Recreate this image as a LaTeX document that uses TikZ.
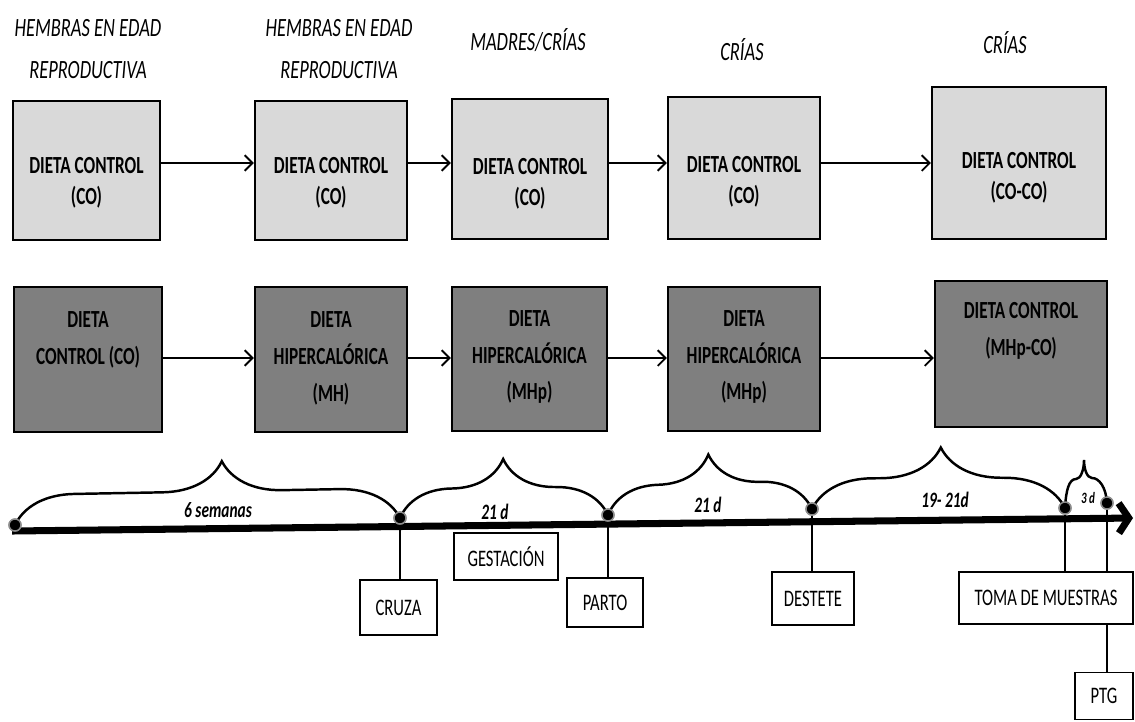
\documentclass[tikz,border=0pt]{standalone}
\usepackage{fontspec}
\setmainfont{Carlito}[FakeStretch=0.7]
\usepackage{tikz}
\usetikzlibrary{arrows.meta}
\usetikzlibrary{decorations.pathreplacing}

\definecolor{boxlite}{HTML}{D9D9D9}
\definecolor{boxdark}{HTML}{7F7F7F}

\tikzset{
  diet/.style={draw=black, line width=1.2pt, inner sep=0pt},
  lite/.style={diet, fill=boxlite},
  dark/.style={diet, fill=boxdark},
  diettext/.style={align=center, font=\bfseries\fontsize{14}{17.5}\selectfont},
  diettextb/.style={align=center, font=\bfseries\fontsize{14}{21}\selectfont},
  stage/.style={align=center, font=\itshape\fontsize{15}{24}\selectfont},
  event/.style={draw=black, line width=0.9pt, fill=white, inner sep=0pt, font=\fontsize{13.5}{16}\selectfont},
  span/.style={font=\bfseries\itshape\fontsize{12.5}{15}\selectfont},
  tdot/.style={circle, fill=black, draw=black!45, line width=0.8pt, minimum size=0.24cm, inner sep=0pt},
  feed/.style={line width=1.1pt, -{Straight Barb[length=4.5pt,width=9pt]}},
  curly/.style={line width=1.4pt, decorate, decoration={brace, amplitude=#1}},
  drop/.style={line width=0.8pt},
}

\begin{document}
\begin{tikzpicture}[x=0.02cm, y=-0.02cm]
\useasboundingbox (0,0) rectangle (1135,721);

% etapas
\node[stage] (h1) at (88,49) {HEMBRAS EN EDAD\\REPRODUCTIVA};
\node[stage] (h2) at (339,49) {HEMBRAS EN EDAD\\REPRODUCTIVA};
\node[stage] (h3) at (528,40) {MADRES/CRÍAS};
\node[stage] (h4) at (742,50) {CRÍAS};
\node[stage] (h5) at (1005,43) {CRÍAS};

% grupo control
\node[lite, minimum width=2.94cm, minimum height=2.78cm] (t1) at (86.5,170.5) {};
\node[lite, minimum width=3.04cm, minimum height=2.78cm] (t2) at (331,170.5) {};
\node[lite, minimum width=3.12cm, minimum height=2.80cm] (t3) at (530,169) {};
\node[lite, minimum width=3.04cm, minimum height=2.84cm] (t4) at (744,168) {};
\node[lite, minimum width=3.48cm, minimum height=3.04cm] (t5) at (1019,163) {};

\node[diettext] (t1txt) at ([yshift=-0.24cm]t1.center) {DIETA CONTROL\\(CO)};
\node[diettext] (t2txt) at ([yshift=-0.24cm]t2.center) {DIETA CONTROL\\(CO)};
\node[diettext] (t3txt) at ([yshift=-0.3cm]t3.center) {DIETA CONTROL\\(CO)};
\node[diettext] (t4txt) at ([yshift=-0.28cm]t4.center) {DIETA CONTROL\\(CO)};
\node[diettext] (t5txt) at ([yshift=-0.3cm]t5.center) {DIETA CONTROL\\(CO-CO)};

% grupo hipercalorico
\node[dark, minimum width=2.96cm, minimum height=2.90cm] (b1) at (88,359.5) {};
\node[dark, minimum width=3.04cm, minimum height=2.90cm] (b2) at (331,359.5) {};
\node[dark, minimum width=3.10cm, minimum height=2.88cm] (b3) at (529.5,359) {};
\node[dark, minimum width=3.04cm, minimum height=2.88cm] (b4) at (744,359) {};
\node[dark, minimum width=3.44cm, minimum height=2.92cm] (b5) at (1021,354) {};

\node[diettextb] (b1txt) at (88,340) {DIETA\\CONTROL (CO)};
\node[diettextb] (b2txt) at (331,358) {DIETA\\HIPERCALÓRICA\\(MH)};
\node[diettextb] (b3txt) at (529.5,357) {DIETA\\HIPERCALÓRICA\\(MHp)};
\node[diettextb] (b4txt) at (744,357) {DIETA\\HIPERCALÓRICA\\(MHp)};
\node[diettextb] (b5txt) at (1021,331) {DIETA CONTROL\\(MHp-CO)};

\coordinate (rowA) at (0,163);
\coordinate (rowB) at (0,358);
\foreach \a/\b in {t1/t2,t2/t3,t3/t4,t4/t5}
  \draw[feed] (\a.east |- rowA) -- (\b.west |- rowA);
\foreach \a/\b in {b1/b2,b2/b3,b3/b4,b4/b5}
  \draw[feed] (\a.east |- rowB) -- (\b.west |- rowB);

% linea de tiempo
\coordinate (tl0) at (12,531);
\coordinate (tl1) at (1133,518);
\draw[line width=4pt, -{Straight Barb[length=0.2cm,width=0.6cm]}] (tl0) -- (tl1);

\node[tdot] (d0) at (15,525) {};
\node[tdot] (d1) at (400,518) {};
\node[tdot] (d2) at (608,515) {};
\node[tdot] (d3) at (812,509) {};
\node[tdot] (d4) at (1065,508) {};
\node[tdot] (d5) at (1107,503) {};

\draw[curly=1.2cm, decoration={aspect=0.54}] (d0.center) -- (d1.center);
\draw[curly=1.15cm] (d1.center) -- (d2.center);
\draw[curly=1.15cm] (d2.center) -- (d3.center);
\draw[curly=1.22cm, decoration={aspect=0.51}] (d3.center) -- (d4.center);
\draw[line width=1.4pt] (d4.center) .. controls +(1,-18) and +(-7,0) .. (1076,479)
  .. controls +(5,0) and +(0,9) .. (1084,460)
  .. controls +(0,9) and +(-5,0) .. (1092,478)
  .. controls +(7,0) and +(-1,-16) .. (d5.center);
\foreach \d in {d0,d1,d2,d3,d4,d5}
  \node[tdot] at (\d) {};

\node[span] (w1) at (218,510) {6 semanas};
\node[span] (w2) at (495,512) {21 d};
\node[span] (w3) at (708,505) {21 d};
\node[span] (w4) at (945,500) {19- 21d};
\node[span, font=\bfseries\itshape\fontsize{9}{11}\selectfont] (w5) at (1088,498) {3 d};

% eventos
\node[event, minimum width=1.54cm, minimum height=1.10cm] (cruza) at (398.5,607.5) {CRUZA};
\node[event, minimum width=2.08cm, minimum height=0.94cm] (gestacion) at (506,556.5) {GESTACIÓN};
\node[event, minimum width=1.52cm, minimum height=0.98cm] (parto) at (605,602.5) {PARTO};
\node[event, minimum width=1.64cm, minimum height=1.06cm] (destete) at (813,598.5) {DESTETE};
\node[event, minimum width=3.48cm, minimum height=1.04cm] (muestras) at (1046,598) {TOMA DE MUESTRAS};
\node[event, minimum width=1.16cm, minimum height=0.94cm] (ptg) at (1104,696) {PTG};

\draw[drop] (d1) -- (d1 |- cruza.north);
\draw[drop] (d2) -- (d2 |- parto.north);
\draw[drop] (d3) -- (d3 |- destete.north);
\draw[drop] (d4) -- (d4 |- muestras.north);
\draw[drop] (d5) -- (d5 |- muestras.north);
\draw[drop] (d5 |- muestras.south) -- (d5 |- ptg.north);
\end{tikzpicture}
\end{document}
